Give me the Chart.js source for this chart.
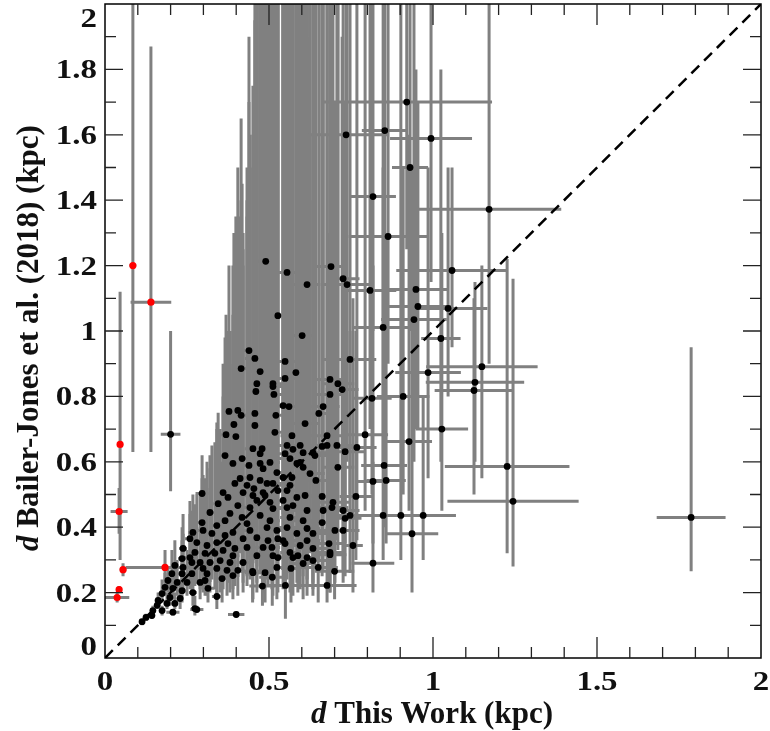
<!DOCTYPE html>
<html>
<head>
<meta charset="utf-8">
<script src="https://cdn.jsdelivr.net/npm/chart.js@4.4.1/dist/chart.umd.min.js"></script>
<style>
  body { margin: 0; background: #fff; }
  canvas { display: block; }
</style>
</head>
<body>
<canvas id="myChart" width="770" height="731"></canvas>
<script>
// Rows: [d this work, d Bailer-Jones, this-work error (+/-), BJ lower bound, BJ upper bound]  (kpc)
const clusterStars = [
  [0.457,0.916,0.03,0.55,2.5], [0.473,0.876,0.03,0.5,2.5], [0.582,0.873,0.04,0.5,2.5], [0.549,0.907,0.03,0.52,2.5],
  [0.686,0.852,0.05,0.5,2.5], [0.71,0.839,0.05,0.48,2.5], [0.723,0.821,0.05,0.46,1.9], [0.463,0.839,0.03,0.48,2.5],
  [0.46,0.815,0.03,0.46,2.1], [0.512,0.839,0.03,0.47,2.5], [0.515,0.806,0.03,0.45,2.5], [0.549,0.855,0.03,0.5,2.5],
  [0.686,0.806,0.05,0.45,2.5], [0.543,0.772,0.03,0.44,2.5], [0.561,0.769,0.035,0.43,1.8], [0.665,0.769,0.05,0.42,2.5],
  [0.652,0.748,0.05,0.42,2.5], [0.521,0.742,0.03,0.42,2.5], [0.457,0.748,0.025,0.42,1.95], [0.457,0.711,0.025,0.4,1.6],
  [0.61,0.717,0.04,0.4,2.5], [0.518,0.69,0.03,0.38,2.5], [0.57,0.68,0.035,0.38,2.5], [0.451,0.64,0.025,0.36,1.75],
  [0.479,0.64,0.03,0.36,2.5], [0.555,0.65,0.035,0.37,2.5], [0.573,0.638,0.035,0.36,2.2], [0.595,0.65,0.04,0.36,2.5],
  [0.604,0.628,0.04,0.35,2.5], [0.634,0.628,0.045,0.35,2.5], [0.677,0.65,0.05,0.36,2.5], [0.707,0.65,0.05,0.36,2.5],
  [0.732,0.631,0.06,0.35,1.7], [0.768,0.644,0.06,0.36,2.5], [0.595,0.598,0.04,0.34,2.5], [0.503,0.598,0.03,0.34,2.5],
  [0.71,0.583,0.05,0.33,2.5], [0.482,0.579,0.03,0.33,2.5], [0.57,0.552,0.035,0.32,2.5], [0.524,0.567,0.03,0.32,2.1],
  [0.473,0.543,0.03,0.31,2.5], [0.512,0.534,0.03,0.3,2.5], [0.555,0.512,0.035,0.3,2.5], [0.643,0.543,0.045,0.31,2.5],
  [0.454,0.518,0.025,0.3,1.55], [0.61,0.497,0.04,0.29,2.5], [0.488,0.497,0.03,0.29,2.5], [0.439,0.94,0.025,0.56,1.9],
  [0.415,0.885,0.02,0.52,1.65], [0.512,0.83,0.03,0.47,2.5], [0.378,0.754,0.02,0.44,1.2], [0.405,0.757,0.02,0.44,1.5],
  [0.415,0.742,0.02,0.43,1.4], [0.393,0.714,0.02,0.41,1.3], [0.369,0.683,0.02,0.4,1.05], [0.399,0.677,0.02,0.39,1.35],
  [0.677,0.68,0.05,0.38,2.5], [0.662,0.647,0.05,0.36,2.5], [0.366,0.619,0.02,0.36,0.98], [0.418,0.61,0.02,0.35,1.45],
  [0.473,0.625,0.03,0.35,2.5], [0.549,0.625,0.035,0.35,2.5], [0.64,0.619,0.045,0.35,2.5], [0.39,0.595,0.02,0.34,1.2],
  [0.439,0.589,0.025,0.34,1.7], [0.473,0.595,0.03,0.34,2.5], [0.564,0.61,0.035,0.34,2.5], [0.585,0.595,0.035,0.34,2.5],
  [0.604,0.583,0.04,0.33,2.5], [0.625,0.564,0.045,0.32,2.5], [0.412,0.549,0.02,0.32,1.35], [0.442,0.552,0.025,0.32,1.6],
  [0.494,0.534,0.03,0.31,2.5], [0.543,0.552,0.03,0.32,2.5], [0.433,0.528,0.025,0.3,1.5], [0.396,0.534,0.02,0.31,1.1],
  [0.527,0.512,0.03,0.3,2.5], [0.564,0.528,0.035,0.3,2.5], [0.36,0.506,0.02,0.3,0.9], [0.375,0.491,0.02,0.29,1.0],
  [0.421,0.506,0.02,0.29,1.3], [0.451,0.497,0.025,0.29,1.6], [0.463,0.482,0.025,0.28,2.5], [0.482,0.506,0.03,0.29,2.5],
  [0.503,0.476,0.03,0.28,2.5], [0.543,0.482,0.03,0.28,2.5], [0.585,0.491,0.035,0.28,2.5], [0.695,0.476,0.05,0.28,2.5],
  [0.345,0.472,0.015,0.28,0.75], [0.405,0.466,0.02,0.28,1.2], [0.442,0.46,0.025,0.27,1.5], [0.512,0.457,0.03,0.27,2.5],
  [0.555,0.46,0.03,0.27,2.5], [0.616,0.451,0.04,0.27,2.5], [0.665,0.451,0.045,0.27,2.5], [0.726,0.451,0.05,0.27,1.3],
  [0.32,0.445,0.015,0.27,0.62], [0.381,0.442,0.02,0.27,1.0], [0.418,0.43,0.02,0.26,1.25], [0.473,0.436,0.025,0.26,2.5],
  [0.503,0.42,0.03,0.25,2.5], [0.564,0.43,0.03,0.26,2.5], [0.604,0.42,0.04,0.25,2.5], [0.662,0.414,0.045,0.25,2.5],
  [0.732,0.427,0.05,0.25,1.2], [0.296,0.414,0.015,0.26,0.55], [0.341,0.405,0.015,0.25,0.7], [0.366,0.42,0.02,0.26,0.9],
  [0.433,0.411,0.02,0.25,1.4], [0.442,0.39,0.02,0.24,1.45], [0.494,0.399,0.025,0.24,2.5], [0.524,0.39,0.03,0.24,2.5],
  [0.555,0.399,0.03,0.24,2.5], [0.585,0.381,0.035,0.23,2.5], [0.616,0.396,0.04,0.24,2.5], [0.634,0.381,0.04,0.23,2.0],
  [0.701,0.39,0.05,0.23,1.7], [0.726,0.39,0.05,0.23,1.05], [0.268,0.384,0.015,0.25,0.5], [0.299,0.39,0.015,0.25,0.56],
  [0.326,0.381,0.015,0.24,0.65], [0.366,0.375,0.02,0.24,0.85], [0.39,0.384,0.02,0.24,1.05], [0.421,0.365,0.02,0.23,1.25],
  [0.463,0.368,0.025,0.23,2.5], [0.497,0.359,0.025,0.22,2.5], [0.527,0.365,0.03,0.22,2.5], [0.549,0.35,0.03,0.22,2.5],
  [0.616,0.359,0.04,0.22,2.5], [0.259,0.365,0.015,0.24,0.48], [0.28,0.353,0.015,0.23,0.5], [0.311,0.344,0.015,0.23,0.6],
  [0.341,0.353,0.015,0.23,0.72], [0.375,0.35,0.02,0.23,0.95], [0.396,0.335,0.02,0.22,1.1], [0.433,0.338,0.02,0.22,1.35],
  [0.509,0.338,0.025,0.21,2.5], [0.595,0.344,0.035,0.21,2.5], [0.634,0.335,0.04,0.21,1.6], [0.686,0.323,0.045,0.2,1.3],
  [0.238,0.335,0.012,0.23,0.44], [0.274,0.323,0.015,0.22,0.47], [0.305,0.32,0.015,0.22,0.55], [0.335,0.32,0.015,0.21,0.66],
  [0.36,0.329,0.02,0.21,0.8], [0.39,0.313,0.02,0.21,1.0], [0.463,0.313,0.025,0.2,2.5], [0.527,0.307,0.03,0.2,2.5],
  [0.564,0.323,0.03,0.2,2.5], [0.588,0.313,0.035,0.2,2.5], [0.616,0.307,0.04,0.19,1.9], [0.235,0.304,0.012,0.22,0.4],
  [0.259,0.307,0.015,0.21,0.44], [0.29,0.292,0.015,0.21,0.5], [0.32,0.292,0.015,0.2,0.58], [0.351,0.298,0.015,0.2,0.7],
  [0.381,0.292,0.02,0.2,0.9], [0.421,0.292,0.02,0.2,1.2], [0.213,0.283,0.012,0.22,0.36], [0.238,0.277,0.012,0.21,0.38],
  [0.299,0.274,0.015,0.2,0.5], [0.341,0.274,0.015,0.19,0.62], [0.372,0.268,0.02,0.19,0.8], [0.405,0.268,0.02,0.19,1.0],
  [0.524,0.277,0.03,0.18,2.5], [0.204,0.258,0.01,0.21,0.33], [0.235,0.258,0.012,0.2,0.36], [0.265,0.258,0.012,0.2,0.4],
  [0.311,0.258,0.015,0.19,0.52], [0.39,0.252,0.02,0.18,0.85], [0.451,0.261,0.025,0.18,1.5], [0.488,0.261,0.025,0.17,2.5],
  [0.22,0.231,0.01,0.19,0.3], [0.25,0.231,0.012,0.19,0.33], [0.192,0.237,0.01,0.2,0.28], [0.29,0.231,0.015,0.18,0.4],
  [0.357,0.243,0.015,0.17,0.6], [0.183,0.216,0.01,0.19,0.26], [0.207,0.213,0.01,0.18,0.27], [0.235,0.206,0.012,0.17,0.29],
  [0.268,0.2,0.012,0.16,0.3], [0.341,0.188,0.015,0.15,0.35], [0.174,0.197,0.01,0.17,0.24], [0.198,0.185,0.01,0.16,0.23],
  [0.229,0.182,0.01,0.15,0.24], [0.162,0.176,0.01,0.16,0.2], [0.189,0.167,0.01,0.15,0.2], [0.213,0.167,0.01,0.15,0.2],
  [0.274,0.151,0.012,0.13,0.19], [0.159,0.161,0.008,0.15,0.18], [0.146,0.145,0.008,0.13,0.16], [0.174,0.145,0.008,0.13,0.16],
  [0.143,0.13,0.008,0.12,0.14], [0.125,0.124,0.006,0.115,0.135], [0.113,0.111,0.006,0.1,0.12],
  [0.747,0.436,0.06,0.26,1.0], [0.692,0.46,0.05,0.27,2.5], [0.573,0.466,0.035,0.27,2.5], [0.634,0.298,0.04,0.19,1.4],
  [0.573,0.307,0.035,0.19,2.5], [0.543,0.359,0.03,0.21,2.5], [0.482,0.338,0.025,0.2,2.5], [0.512,0.313,0.025,0.19,2.5],
  [0.567,0.274,0.03,0.17,2.5], [0.604,0.289,0.04,0.18,1.5]
];

const fieldStars = [
  [0.92,1.70,0.26,1.25,2.5], [0.735,1.60,0.13,1.1,2.5], [0.853,1.613,0.07,1.2,2.5], [0.994,1.589,0.125,1.15,2.5],
  [0.93,1.50,0.055,1.0,2.5], [0.817,1.411,0.07,1.0,2.5], [1.171,1.372,0.22,0.9,2.5], [0.863,1.289,0.12,0.9,2.2],
  [1.058,1.185,0.17,0.95,1.5], [0.948,1.127,0.1,0.7,1.8], [0.808,1.124,0.08,0.7,2.5], [0.726,1.16,0.05,0.6,2.5],
  [0.738,1.142,0.08,0.6,2.5], [0.689,1.197,0.05,0.6,2.5], [0.555,1.179,0.03,0.6,2.5], [0.49,1.213,0.03,0.6,2.5],
  [0.616,1.142,0.04,0.6,2.5], [0.954,1.075,0.1,0.7,1.7], [1.046,1.069,0.12,0.8,1.5], [0.942,1.035,0.1,0.6,2.0],
  [0.848,1.011,0.09,0.6,2.5], [1.024,0.977,0.06,0.6,1.8], [0.527,1.047,0.03,0.5,2.5], [0.601,0.986,0.04,0.5,2.5],
  [0.747,0.913,0.08,0.5,2.5], [0.985,0.873,0.1,0.55,1.5], [1.149,0.891,0.17,0.55,1.2], [1.128,0.843,0.15,0.6,1.15],
  [1.125,0.818,0.12,0.5,1.1], [0.909,0.80,0.08,0.5,1.5], [0.814,0.794,0.06,0.5,2.2], [1.027,0.70,0.08,0.45,1.3],
  [0.793,0.683,0.07,0.45,2.0], [0.927,0.662,0.07,0.45,1.6], [0.851,0.589,0.07,0.4,1.3], [0.817,0.54,0.05,0.35,1.2],
  [0.857,0.543,0.06,0.35,1.3], [1.226,0.586,0.19,0.32,1.22], [1.244,0.479,0.2,0.28,1.16], [1.787,0.43,0.105,0.265,0.95],
  [0.765,0.494,0.05,0.3,1.0], [0.662,0.494,0.04,0.3,2.5], [0.848,0.436,0.07,0.3,1.5], [0.902,0.436,0.12,0.3,2.5],
  [0.97,0.436,0.1,0.3,0.8], [0.936,0.38,0.08,0.2,1.5], [0.817,0.29,0.065,0.2,0.6], [0.756,0.344,0.03,0.2,1.1],
  [0.683,0.35,0.05,0.21,1.3], [0.686,0.316,0.05,0.2,1.0], [0.677,0.222,0.09,0.17,0.4], [0.65,0.277,0.06,0.17,0.55],
  [0.70,0.265,0.06,0.18,0.5], [0.48,0.22,0.04,0.16,0.33], [0.55,0.222,0.05,0.12,0.35], [0.51,0.247,0.04,0.16,0.38],
  [0.45,0.265,0.03,0.17,0.45], [0.20,0.684,0.03,0.51,1.0], [0.40,0.133,0.025,0.125,0.142], [0.207,0.14,0.02,0.13,0.15],
  [0.28,0.148,0.02,0.14,0.16], [0.296,0.503,0.02,0.4,0.62], [0.265,0.292,0.015,0.22,0.45], [0.305,0.237,0.02,0.19,0.32],
  [0.314,0.213,0.02,0.17,0.28]
];

// red symbols
const flaggedStars = [
  [0.085,1.20,0.01,0.63,2.5], [0.14,1.088,0.062,0.63,1.87], [0.046,0.653,0.008,0.30,1.12], [0.043,0.448,0.026,0.38,0.52],
  [0.055,0.27,0.01,0.25,0.29], [0.183,0.277,0.12,0.23,0.33], [0.043,0.209,0.006,0.2,0.22], [0.037,0.185,0.037,0.17,0.2]
];

const oneToOne = [0, 2];
const xTickValues = [0, 0.5, 1, 1.5, 2];
const xTickLabels = ['0', '0.5', '1', '1.5', '2'];
const yTickValues = [0, 0.2, 0.4, 0.6, 0.8, 1, 1.2, 1.4, 1.6, 1.8, 2];
const yTickLabels = ['0', '0.2', '0.4', '0.6', '0.8', '1', '1.2', '1.4', '1.6', '1.8', '2'];

const SERIF = '"Liberation Serif", "Times New Roman", serif';

function toPoints(rows) {
    return rows.map(r => ({ x: r[0], y: r[1] }));
}

// gray error bars, drawn under every dataset
const errorBars = {
    id: 'errorBars',
    beforeDatasetsDraw(chart) {
        const ctx = chart.ctx;
        const a = chart.chartArea;
        const xs = chart.scales.x, ys = chart.scales.y;
        ctx.save();
        ctx.beginPath();
        ctx.rect(a.left, a.top, a.right - a.left, a.bottom - a.top);
        ctx.clip();
        ctx.strokeStyle = '#808080';
        ctx.lineWidth = 3;
        chart.data.datasets.forEach(ds => {
            if (!ds.errRows) return;
            ds.errRows.forEach(r => {
                const px = xs.getPixelForValue(r[0]);
                const py = ys.getPixelForValue(r[1]);
                const x0 = xs.getPixelForValue(r[0] - r[2]);
                const x1 = xs.getPixelForValue(r[0] + r[2]);
                const y0 = ys.getPixelForValue(r[3]);
                const y1 = ys.getPixelForValue(r[4]);
                ctx.beginPath();
                if (x1 - x0 > 1) { ctx.moveTo(x0, py); ctx.lineTo(x1, py); }
                if (y0 - y1 > 1) { ctx.moveTo(px, y0); ctx.lineTo(px, y1); }
                ctx.stroke();
            });
        });
        ctx.restore();
    }
};

function stretchedText(ctx, text, x, y, align, sx) {
    ctx.save();
    ctx.translate(x, y);
    ctx.scale(sx, 1);
    ctx.textAlign = align;
    ctx.fillText(text, 0, 0);
    ctx.restore();
}

function mixedText(ctx, parts, cx, y) {
    let total = 0;
    parts.forEach(p => { ctx.font = p[1]; total += ctx.measureText(p[0]).width; });
    let x = cx - total / 2;
    ctx.textAlign = 'left';
    parts.forEach(p => {
        ctx.font = p[1];
        ctx.fillText(p[0], x, y);
        x += ctx.measureText(p[0]).width;
    });
}

// frame, inward ticks, labels and titles
const frame = {
    id: 'frame',
    afterDraw(chart) {
        const ctx = chart.ctx;
        const a = chart.chartArea;
        const xs = chart.scales.x, ys = chart.scales.y;
        ctx.save();
        ctx.strokeStyle = '#000';
        ctx.lineWidth = 1.5;
        ctx.strokeRect(a.left, a.top, a.right - a.left, a.bottom - a.top);

        ctx.lineWidth = 1.3;
        ctx.strokeStyle = '#222';
        ctx.beginPath();
        for (let i = 1; i < 20; i++) {
            const v = i / 10;
            const px = xs.getPixelForValue(v);
            const len = (i % 5 === 0) ? 21 : 11;
            ctx.moveTo(px, a.bottom); ctx.lineTo(px, a.bottom - len);
            ctx.moveTo(px, a.top); ctx.lineTo(px, a.top + len);
            const py = ys.getPixelForValue(v);
            const ylen = (i % 2 === 0) ? 18 : 11;
            ctx.moveTo(a.left, py); ctx.lineTo(a.left + ylen, py);
            ctx.moveTo(a.right, py); ctx.lineTo(a.right - ylen, py);
        }
        ctx.stroke();

        ctx.fillStyle = '#111';
        ctx.font = 'bold 27px ' + SERIF;
        ctx.textBaseline = 'alphabetic';
        yTickValues.forEach((v, i) => {
            let py = ys.getPixelForValue(v);
            py = Math.min(Math.max(py, a.top + 14), a.bottom - 12);
            stretchedText(ctx, yTickLabels[i], 97, py + 9, 'right', 1.22);
        });
        xTickValues.forEach((v, i) => {
            const px = xs.getPixelForValue(v);
            stretchedText(ctx, xTickLabels[i], px, a.bottom + 32, 'center', 1.22);
        });

        const ital = 'italic bold 31px ' + SERIF;
        const bold = 'bold 31px ' + SERIF;
        mixedText(ctx, [['d', ital], [' This Work (kpc)', bold]], 432, 723);

        ctx.translate(38, 338);
        ctx.rotate(-Math.PI / 2);
        mixedText(ctx, [['d', ital], [' Bailer-Jones et al. (2018) (kpc)', bold]], 0, 0);
        ctx.restore();
    }
};

const ctx = document.getElementById('myChart').getContext('2d');
const myChart = new Chart(ctx, {
    type: 'scatter',
    data: {
        datasets: [
            {
                label: 'one to one',
                data: oneToOne.map(v => ({ x: v, y: v })),
                showLine: true,
                borderColor: '#000',
                borderWidth: 2.5,
                borderDash: [11, 7],
                pointRadius: 0,
                order: 2
            },
            {
                label: 'stars',
                data: toPoints(clusterStars.concat(fieldStars)),
                errRows: clusterStars.concat(fieldStars),
                backgroundColor: '#000',
                borderWidth: 0,
                pointRadius: 3.4,
                order: 1
            },
            {
                label: 'flagged',
                data: toPoints(flaggedStars),
                errRows: flaggedStars,
                backgroundColor: '#ff0000',
                borderWidth: 0,
                pointRadius: 3.6,
                order: 0
            }
        ]
    },
    options: {
        responsive: false,
        animation: false,
        layout: { padding: { left: 0, right: 9, top: 3, bottom: 0 } },
        plugins: { legend: { display: false }, tooltip: { enabled: false } },
        scales: {
            x: {
                type: 'linear', min: 0, max: 2,
                grid: { display: false }, border: { display: false },
                ticks: { display: false },
                afterFit: s => { s.height = 73; }
            },
            y: {
                type: 'linear', min: 0, max: 2,
                grid: { display: false }, border: { display: false },
                ticks: { display: false },
                afterFit: s => { s.width = 105; }
            }
        }
    },
    plugins: [errorBars, frame]
});
</script>
</body>
</html>
